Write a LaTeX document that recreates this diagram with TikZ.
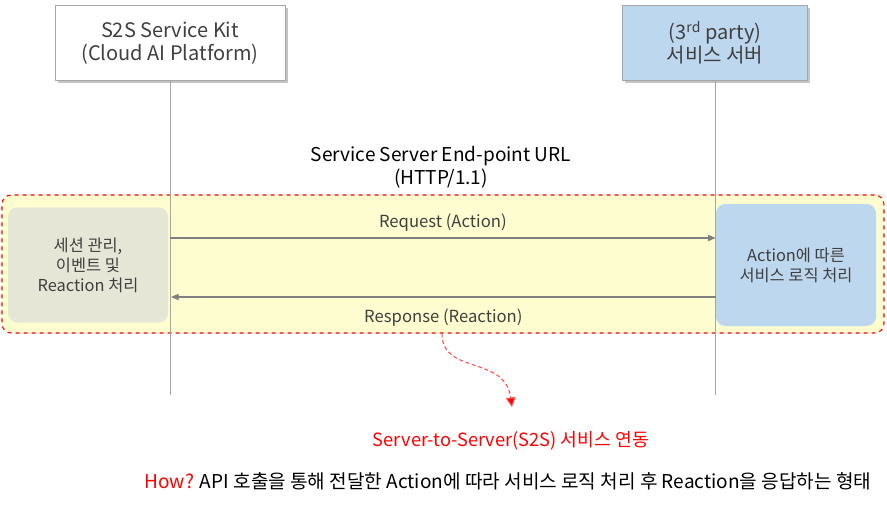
\documentclass[tikz,border=0pt]{standalone}
\usepackage{fontspec}
\setmainfont{Noto Sans CJK KR}
\usepackage{tikz}
\usetikzlibrary{positioning,arrows.meta,shadows,calc}
\definecolor{line}{HTML}{A6A6A6}
\definecolor{head}{HTML}{404040}
\definecolor{sky}{HTML}{BDD7EE}
\definecolor{cream}{HTML}{FDFDD0}
\definecolor{sand}{HTML}{E6E6D6}
\definecolor{alert}{HTML}{FF0000}
\tikzset{
  actor/.style={rectangle,draw=line,align=center,text=head,
    font=\fontsize{15}{17.5}\selectfont,
    minimum width=172.5pt,minimum height=56.25pt,
    drop shadow={shadow xshift=2pt,shadow yshift=-2pt,fill=black!45}},
  task/.style={rectangle,rounded corners=7pt,align=center,text=head,
    font=\fontsize{12.3}{15}\selectfont,minimum width=120pt},
  life/.style={draw=line,thin},
  msg/.style={-{Triangle[length=2mm,width=1.6mm]},draw=gray,thick},
  lbl/.style={font=\fontsize{12.5}{15}\selectfont,text=head},
}

\begin{document}
\begin{tikzpicture}[x=0.75pt,y=-0.75pt]
  \useasboundingbox (0,0) rectangle (887,513);
  % zone
  \node[draw=alert,dashed,thick,fill=cream,rounded corners=7pt,
    minimum width=661.5pt,minimum height=103.5pt] (zone) at (443,264) {};
  % participants
  \node[actor,fill=white] (kit) at (170,43) {S2S Service Kit\\(Cloud AI Platform)};
  \node[actor,fill=sky,minimum width=138.75pt] (srv) at (715,43)
    {(3\textsuperscript{rd} party)\\서비스 서버};
  \coordinate (kitend) at (170,395);
  \coordinate (srvend) at (715,395);
  % inner boxes
  \node[task,fill=sand,minimum height=86.25pt] (sess) at (88,265)
    {세션 관리,\\이벤트 및\\Reaction 처리};
  \node[task,fill=sky,minimum height=91.5pt] (logic) at (796,265)
    {Action에 따른\\서비스 로직 처리};
  \draw[life] (kit) -- (kitend);
  \draw[life] (srv) -- (srvend);
  \node[font=\fontsize{14.3}{17.5}\selectfont,text=black,align=center] (url) at (441,167)
    {Service Server End-point URL\\(HTTP/1.1)};
  % messages
  \coordinate (reqs) at (170,238);
  \coordinate (resa) at (171,297);
  \draw[msg] (reqs) -- (reqs -| logic.west)
    node[lbl,midway,above=1pt] (req) {Request (Action)};
  \draw[msg] (resa -| logic.west) -- (resa)
    node[lbl,midway,below=5pt] (res) {Response (Reaction)};
  % note
  \coordinate (tip) at (512,407);
  \draw[alert!70,densely dashed,thick,-{Triangle[length=2.5mm,width=2.5mm,fill=alert]}]
    (zone.south -| 442,0) .. controls (442,375) and (505,355) .. (tip);
  \node[text=alert,font=\fontsize{13.7}{16}\selectfont] (title) at (511,441)
    {Server-to-Server(S2S) 서비스 연동};
  \node[font=\fontsize{14.3}{17}\selectfont,text=black,anchor=east] (how) at (876,481)
    {\textcolor{alert}{How?} API 호출을 통해 전달한 Action에 따라 서비스 로직 처리 후 Reaction을 응답하는 형태};
\end{tikzpicture}
\end{document}
